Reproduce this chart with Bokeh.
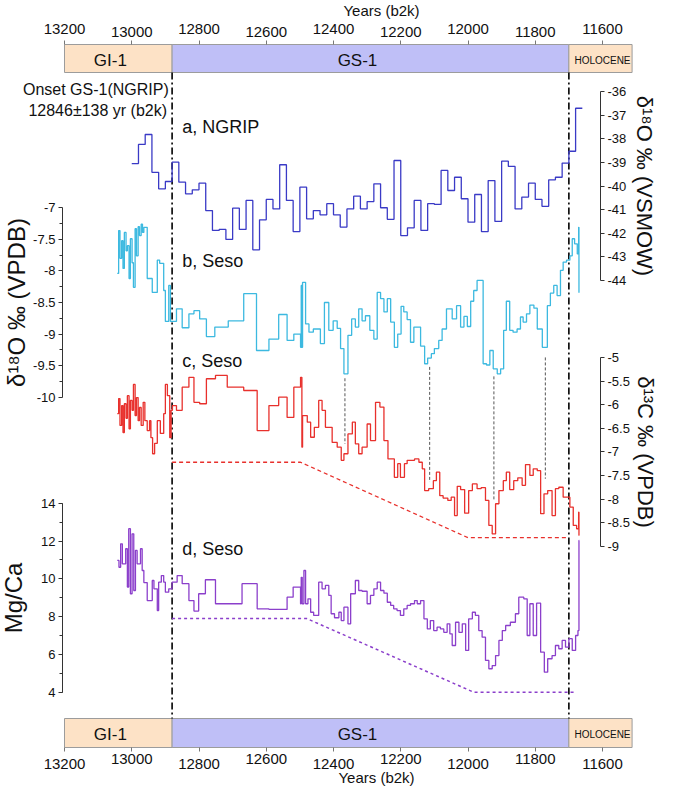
from bokeh.core.properties import value
from bokeh.embed import file_html
from bokeh.models import (FixedTicker, LinearAxis, PrintfTickFormatter, Range1d,
                          SingleIntervalTicker)
from bokeh.plotting import figure
from bokeh.resources import INLINE

# ---------------- data (years b2k) ----------------
phase_names = ["GI-1", "GS-1", "HOLOCENE"]
phase_start = [13200, 12880, 11700]
phase_end = [12880, 11700, 11512]
boundary_years = [12880, 11700]
year_ticks_a = [13200, 12800, 12400, 12000, 11600]
year_ticks_b = [13000, 12600, 12200, 11800]

# a, NGRIP d18O (20-yr means)
ngrip_years = [13000, 12980, 12960, 12940, 12920, 12900, 12880, 12860, 12840, 12820,
               12800, 12780, 12760, 12740, 12720, 12700, 12680, 12660, 12640, 12620,
               12600, 12580, 12560, 12540, 12520, 12500, 12480, 12460, 12440, 12420,
               12400, 12380, 12360, 12340, 12320, 12300, 12280, 12260, 12240, 12220,
               12200, 12180, 12160, 12140, 12120, 12100, 12080, 12060, 12040, 12020,
               12000, 11980, 11960, 11940, 11920, 11900, 11880, 11860, 11840, 11820,
               11800, 11780, 11760, 11740, 11720, 11700, 11680]
ngrip_d18o = [-39.05, -38.24, -37.82, -39.42, -40.12, -39.81, -38.99, -39.84, -40.33, -40.16,
              -39.88, -41.04, -41.88, -41.84, -42.26, -40.94, -41.84, -40.61, -42.70, -41.43,
              -40.57, -40.97, -39.10, -40.61, -41.93, -40.05, -41.39, -41.04, -41.22, -40.75,
              -41.22, -41.74, -40.97, -40.43, -40.97, -40.66, -39.91, -40.92, -41.41, -38.92,
              -42.10, -41.77, -40.61, -41.88, -40.75, -40.78, -39.34, -40.19, -39.63, -40.54,
              -41.53, -40.36, -41.93, -39.77, -41.50, -38.95, -39.17, -40.97, -40.47, -39.88,
              -40.57, -40.86, -39.74, -39.63, -39.03, -38.53, -36.71]
ngrip_end = 11660

# b, Seso d18O
seso_d18o_years = [13043, 13039, 13035, 13030, 13026, 13022, 13017, 13013, 13008, 13004,
                   12999, 12995, 12990, 12986, 12981, 12977, 12972, 12968, 12964, 12954,
                   12939, 12924, 12917, 12905, 12900, 12890, 12885, 12867, 12850, 12830,
                   12815, 12798, 12778, 12753, 12713, 12667, 12629, 12592, 12563, 12538,
                   12518, 12498, 12496, 12494, 12492, 12483, 12473, 12460, 12439, 12427,
                   12414, 12401, 12389, 12379, 12369, 12357, 12346, 12335, 12325, 12315,
                   12305, 12292, 12280, 12270, 12260, 12250, 12240, 12230, 12219, 12209,
                   12199, 12191, 12181, 12171, 12161, 12141, 12129, 12120, 12109, 12100,
                   12087, 12077, 12064, 12047, 12034, 12022, 12012, 12002, 11992, 11983,
                   11973, 11955, 11945, 11935, 11925, 11913, 11903, 11894, 11886, 11876,
                   11866, 11854, 11844, 11836, 11826, 11816, 11804, 11794, 11779, 11764,
                   11755, 11745, 11735, 11725, 11717, 11707, 11697, 11690, 11683, 11675,
                   11671, 11670]
seso_d18o = [-8.04, -7.36, -7.80, -7.52, -7.96, -7.39, -7.68, -7.60, -8.12, -7.49,
             -7.87, -8.26, -7.33, -7.76, -7.30, -7.44, -7.26, -7.39, -7.31, -8.12,
             -8.34, -7.83, -7.88, -8.31, -8.80, -8.23, -8.80, -8.60, -8.90, -8.68,
             -8.63, -8.76, -9.04, -8.89, -8.79, -8.36, -9.26, -9.08, -8.69, -9.10,
             -9.00, -9.21, -8.23, -9.21, -8.18, -8.84, -8.97, -8.92, -9.15, -8.50,
             -8.94, -8.79, -8.91, -9.23, -9.63, -9.02, -8.76, -8.89, -8.60, -8.79,
             -8.71, -8.94, -9.08, -8.34, -8.44, -8.65, -8.44, -8.81, -9.21, -9.00,
             -8.56, -8.65, -8.77, -9.13, -8.89, -9.19, -9.47, -9.38, -9.31, -9.23,
             -9.10, -8.92, -8.60, -8.76, -8.55, -8.89, -8.72, -8.88, -8.48, -8.31,
             -8.15, -9.47, -9.49, -9.26, -9.55, -9.63, -9.55, -8.94, -8.48, -8.94,
             -8.97, -8.92, -8.73, -8.81, -8.68, -8.54, -8.59, -8.92, -9.21, -8.55,
             -8.35, -8.23, -8.39, -7.99, -7.86, -7.83, -7.76, -7.49, -7.57, -7.73,
             -7.31, -8.34]

# c, Seso d13C
seso_d13c_years = [13043, 13039, 13035, 13030, 13026, 13022, 13017, 13013, 13008, 13004,
                   12999, 12995, 12990, 12986, 12981, 12977, 12972, 12966, 12961, 12954,
                   12947, 12943, 12938, 12932, 12924, 12915, 12905, 12900, 12894, 12887,
                   12883, 12879, 12867, 12850, 12830, 12815, 12798, 12778, 12751, 12716,
                   12667, 12627, 12592, 12563, 12538, 12518, 12498, 12494, 12492, 12478,
                   12468, 12457, 12444, 12434, 12424, 12404, 12389, 12377, 12369, 12357,
                   12344, 12335, 12325, 12315, 12300, 12290, 12275, 12262, 12250, 12238,
                   12219, 12209, 12201, 12189, 12181, 12159, 12146, 12136, 12129, 12117,
                   12103, 12094, 12084, 12074, 12060, 12050, 12040, 12032, 12022, 12010,
                   11998, 11987, 11973, 11961, 11948, 11938, 11928, 11918, 11908, 11895,
                   11886, 11876, 11864, 11852, 11839, 11829, 11816, 11806, 11794, 11784,
                   11774, 11763, 11750, 11740, 11730, 11717, 11707, 11697, 11687, 11677,
                   11671, 11670]
seso_d13c = [-6.19, -5.87, -6.44, -6.02, -6.59, -5.98, -6.29, -5.81, -6.51, -5.91,
             -6.12, -5.57, -6.23, -5.85, -6.34, -6.06, -6.44, -5.95, -6.34, -6.55,
             -6.34, -6.70, -7.04, -6.82, -6.34, -6.61, -6.19, -5.57, -5.81, -6.70,
             -6.12, -6.02, -6.12, -5.63, -5.42, -5.95, -5.98, -5.45, -5.38, -5.63,
             -5.70, -6.55, -6.02, -5.84, -6.27, -5.63, -5.42, -6.90, -6.23, -6.37,
             -6.69, -6.48, -5.91, -6.12, -6.48, -6.80, -6.90, -7.18, -7.04, -6.62,
             -6.37, -6.83, -7.04, -6.90, -6.41, -6.76, -5.95, -6.05, -6.76, -7.15,
             -7.54, -7.25, -7.54, -7.25, -7.18, -7.15, -7.22, -7.36, -7.82, -7.78,
             -7.61, -7.43, -7.93, -7.98, -8.03, -7.96, -8.35, -7.73, -7.80, -8.30,
             -7.82, -7.68, -7.78, -7.76, -8.03, -8.56, -8.74, -8.10, -7.82, -7.61,
             -7.43, -7.80, -7.61, -7.55, -7.71, -7.27, -7.50, -7.36, -7.40, -8.31,
             -7.89, -7.82, -8.35, -7.78, -7.75, -7.96, -7.96, -8.17, -8.56, -8.63,
             -8.28, -8.77]

# d, Seso Mg/Ca
seso_mgca_years = [13043, 13038, 13033, 13028, 13018, 13013, 13009, 13004, 12999, 12994,
                   12989, 12984, 12974, 12969, 12964, 12954, 12939, 12934, 12924, 12920,
                   12912, 12905, 12900, 12890, 12880, 12865, 12850, 12830, 12815, 12801,
                   12781, 12751, 12672, 12627, 12592, 12538, 12520, 12498, 12496, 12493,
                   12488, 12483, 12476, 12468, 12459, 12444, 12434, 12424, 12414, 12407,
                   12397, 12384, 12377, 12369, 12357, 12349, 12335, 12325, 12315, 12300,
                   12290, 12280, 12270, 12260, 12250, 12240, 12230, 12221, 12211, 12201,
                   12191, 12181, 12171, 12159, 12151, 12141, 12131, 12121, 12112, 12102,
                   12092, 12082, 12072, 12062, 12054, 12047, 12037, 12027, 12017, 12007,
                   11998, 11987, 11978, 11968, 11958, 11948, 11938, 11928, 11918, 11908,
                   11898, 11888, 11874, 11859, 11849, 11834, 11824, 11816, 11806, 11796,
                   11784, 11773, 11763, 11750, 11740, 11730, 11720, 11710, 11700, 11690,
                   11680, 11673, 11670]
seso_mgca = [10.97, 10.61, 11.85, 10.79, 11.59, 9.56, 12.65, 9.21, 12.38, 9.38,
             11.50, 10.79, 11.59, 10.44, 9.80, 8.85, 9.91, 9.47, 8.32, 9.82,
             10.17, 9.82, 9.29, 9.47, 9.82, 10.17, 9.74, 8.85, 8.29, 9.21,
             9.95, 8.68, 9.74, 8.41, 8.38, 9.03, 9.56, 8.68, 10.08, 8.68,
             10.44, 8.68, 8.94, 8.23, 8.06, 9.82, 9.47, 9.65, 9.12, 8.15,
             7.94, 8.23, 7.79, 8.50, 7.62, 9.21, 9.91, 9.38, 9.34, 8.68,
             9.12, 9.47, 9.82, 9.38, 9.24, 8.76, 8.59, 8.41, 8.32, 8.06,
             8.41, 8.59, 8.68, 8.85, 8.68, 8.85, 7.88, 7.35, 7.79, 7.26,
             7.44, 7.35, 7.17, 7.62, 7.09, 6.47, 7.70, 7.17, 7.62, 6.21,
             7.88, 8.23, 8.06, 7.26, 6.91, 5.68, 5.24, 5.41, 5.94, 6.74,
             7.26, 7.53, 7.70, 8.15, 9.03, 8.94, 7.00, 8.68, 7.00, 8.71,
             6.12, 5.06, 5.77, 5.94, 6.47, 6.30, 6.74, 6.38, 6.83, 6.21,
             7.00, 7.26, 12.03]
seso_end = 11669

# dashed trends and tie lines (d18O minima -> d13C minima)
d13c_trend_years = [12880, 12498, 12000, 11700]
d13c_trend = [-7.22, -7.22, -8.82, -8.82]
mgca_trend_years = [12880, 12480, 11983, 11683]
mgca_trend = [7.9, 7.9, 4.0, 4.0]
tie_years = [12366, 12114, 11923, 11770]
tie_d18o = [-9.70, -9.52, -9.67, -9.37]
tie_d13c = [-6.83, -7.64, -8.03, -7.57]

# ---------------- layout (pixel rows/cols of the original figure) ----------------
FONT = "Liberation Sans"
W, H = 661, 786
X0_PX, PX_PER_YR = 64, 0.33625
TOP_BAND = (44, 72)
BOTTOM_BAND = (718, 747)

# (value, row) pairs that pin each record's own scale
SCALE_A = (-36, 91, -44, 280)
SCALE_B = (-7, 207.3, -10, 396.7)
SCALE_C = (-5, 357, -9, 545.7)
SCALE_D = (14, 502.7, 4, 691.7)


def year_at(px):
    return 13200 - (px - X0_PX) / PX_PER_YR


def value_at(scale, row):
    v1, r1, v2, r2 = scale
    return v1 + (row - r1) * (v2 - v1) / (r2 - r1)


def row_of(scale, v):
    v1, r1, v2, r2 = scale
    return r1 + (v - v1) * (r2 - r1) / (v2 - v1)


def y_range_for(scale):
    return Range1d(value_at(scale, H), value_at(scale, 0))


p = figure(width=W, height=H,
           x_range=Range1d(year_at(0), year_at(W)),
           y_range=Range1d(H, 0),
           x_axis_location=None, y_axis_location=None,
           toolbar_location=None, output_backend="svg",
           min_border=0, outline_line_color=None)
p.grid.visible = False
p.extra_y_ranges = {"a": y_range_for(SCALE_A), "b": y_range_for(SCALE_B),
                    "c": y_range_for(SCALE_C), "d": y_range_for(SCALE_D)}

# stage bands, top and bottom
band_colors = ["#fde2c6", "#bfbff7", "#fde2c6"]
mids = [(s + e) / 2 for s, e in zip(phase_start, phase_end)]
for top, bottom in [TOP_BAND, BOTTOM_BAND]:
    label_row = (top + bottom) / 2 + 1.5
    p.quad(left=phase_start, right=phase_end, top=top, bottom=bottom,
           fill_color=band_colors, line_color="#9c9c9c", line_width=1)
    p.text(x=mids[:2], y=[label_row] * 2, text=phase_names[:2], x_offset=[-8, -13],
           text_font=value(FONT), text_font_size="17px", text_color="#111",
           text_align="center", text_baseline="middle")
    p.text(x=mids[2:], y=[label_row], text=phase_names[2:], x_offset=[2],
           text_font=value(FONT), text_font_size="10px", text_color="#111",
           text_align="center", text_baseline="middle")

p.segment(x0=boundary_years, x1=boundary_years, y0=TOP_BAND[1], y1=BOTTOM_BAND[0],
          line_color="black", line_width=1.6, line_dash="7 3 2 3")

# records
def step(years, vals, end, rng, color):
    p.step(x=years + [end], y=vals + [vals[-1]], mode="after", y_range_name=rng,
           line_color=color, line_width=1.3)


step(ngrip_years, ngrip_d18o, ngrip_end, "a", "#3a3ac6")
step(seso_d18o_years, seso_d18o, seso_end, "b", "#3cb9e0")
step(seso_d13c_years, seso_d13c, seso_end, "c", "#e8302c")
step(seso_mgca_years, seso_mgca, seso_end, "d", "#8b3fcb")

p.line(d13c_trend_years, d13c_trend, y_range_name="c", line_color="#e8302c",
       line_width=1.3, line_dash="4 3")
p.line(mgca_trend_years, mgca_trend, y_range_name="d", line_color="#8b3fcb",
       line_width=1.5, line_dash="3 3")
p.segment(x0=tie_years, x1=tie_years, y0=tie_d18o,
          y1=[value_at(SCALE_B, row_of(SCALE_C, v)) for v in tie_d13c],
          y_range_name="b", line_color="#555555", line_width=1, line_dash="3 2")

# record labels, onset note and the time-axis titles
p.text(x=[12850] * 4, y=[126, 260, 360, 548],
       text=["a, NGRIP", "b, Seso", "c, Seso", "d, Seso"],
       text_font=value(FONT), text_font_size="18px", text_color="#111",
       text_baseline="middle")
p.text(x=[12890, 12895], y=[88.5, 110],
       text=["Onset GS-1(NGRIP)", "12846\u00b1138 yr (b2k)"],
       text_font=value(FONT), text_font_size="16px", text_color="#111",
       text_align="right", text_baseline="middle")
p.text(x=[year_at(381), year_at(376)], y=[10, 777],
       text=["Years (b2k)", "Years (b2k)"],
       text_font=value(FONT), text_font_size="15px", text_color="#111",
       text_align="center", text_baseline="middle")

# value axes, pinned inside the frame
def value_axis(rng, side, col, lo, hi, ticker, label, label_size, label_standoff):
    ax = LinearAxis(y_range_name=rng, fixed_location=year_at(col), bounds=(lo, hi),
                    ticker=ticker, formatter=PrintfTickFormatter(format="%g"),
                    axis_label=label, axis_label_standoff=label_standoff,
                    axis_label_text_font=FONT, axis_label_text_font_size=label_size,
                    axis_label_text_font_style="normal", axis_label_text_color="#111",
                    major_label_text_font=FONT, major_label_text_font_size="13px",
                    major_label_text_color="#111", major_label_standoff=3,
                    axis_line_color="#333333", major_tick_line_color="#333333",
                    minor_tick_line_color="#333333", major_tick_in=0, major_tick_out=4,
                    minor_tick_in=0, minor_tick_out=3)
    p.add_layout(ax, side)


value_axis("a", "right", 600, -44, -36, SingleIntervalTicker(interval=1, num_minor_ticks=0),
           "\u03b4\u00b9\u2078O \u2030 (VSMOW)", "22px", 3)
value_axis("c", "right", 600, -9, -5, SingleIntervalTicker(interval=0.5, num_minor_ticks=0),
           "\u03b4\u00b9\u00b3C \u2030 (VPDB)", "22px", 0)
value_axis("b", "left", 62, -10, -7,
           FixedTicker(ticks=[-7, -7.5, -8, -8.5, -9, -9.5, -10],
                       minor_ticks=[-7.25, -7.75, -8.25, -8.75, -9.25, -9.75]),
           "\u03b4\u00b9\u2078O \u2030 (VPDB)", "24px", 0)
value_axis("d", "left", 62, 4, 14, SingleIntervalTicker(interval=2, num_minor_ticks=2),
           "Mg/Ca", "24px", 11)

# year axes, labels staggered as in the original
def year_axis(side, row, ticks, standoff):
    ax = LinearAxis(fixed_location=row, ticker=FixedTicker(ticks=ticks),
                    axis_line_color=None, major_tick_line_color="#777777",
                    major_tick_in=0, major_tick_out=4, minor_tick_line_color=None,
                    major_label_standoff=standoff, major_label_text_font=FONT,
                    major_label_text_font_size="15px", major_label_text_color="#111")
    p.add_layout(ax, side)


year_axis("above", TOP_BAND[0], year_ticks_a, 7)
year_axis("above", TOP_BAND[0], year_ticks_b, 4)
year_axis("below", BOTTOM_BAND[1], year_ticks_a, 7)
year_axis("below", BOTTOM_BAND[1], year_ticks_b, 2)

open("out.html", "w").write(file_html(p, INLINE))
